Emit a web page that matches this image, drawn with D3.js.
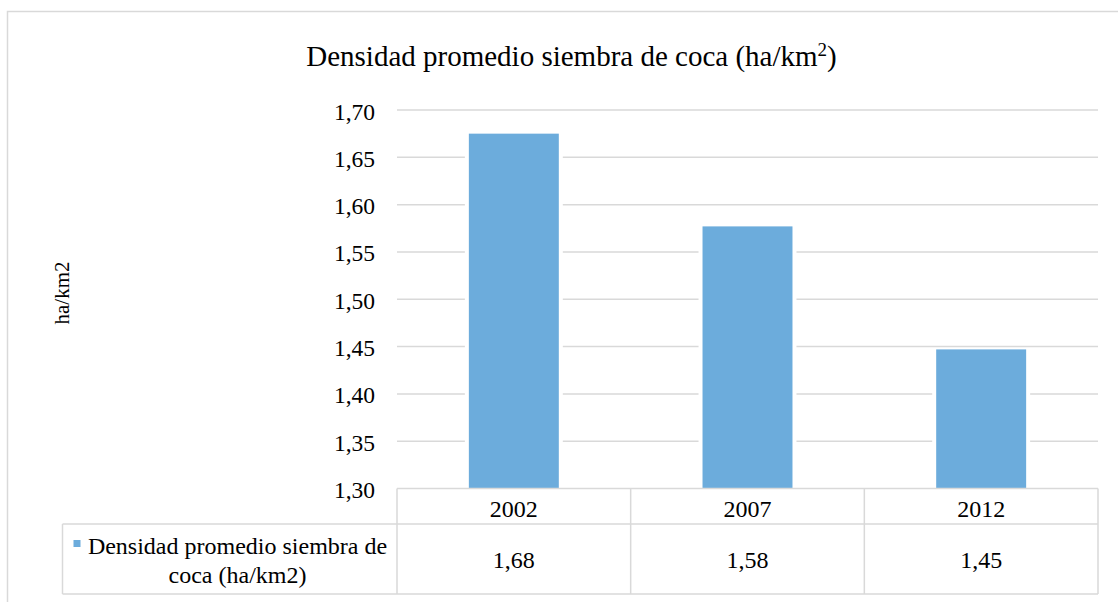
<!DOCTYPE html>
<html>
<head>
<meta charset="utf-8">
<script src="https://cdn.jsdelivr.net/npm/d3@7"></script>
<style>
  html, body { margin: 0; padding: 0; background: #fff; }
  svg { display: block; }
  text { font-family: "Liberation Serif", "Times New Roman", serif; fill: #000; }
</style>
</head>
<body>
<svg id="chart" width="1118" height="602"></svg>
<script>
const categories = ["2002", "2007", "2012"];
const values = [1.675, 1.577, 1.447];
const valueLabels = ["1,68", "1,58", "1,45"];
const yTicks = [1.30, 1.35, 1.40, 1.45, 1.50, 1.55, 1.60, 1.65, 1.70];
const seriesName = ["Densidad promedio siembra de", "coca (ha/km2)"];
const titleText = "Densidad promedio siembra de coca (ha/km";
const yTitle = "ha/km2";

(function () {
const barColor = "#6cacdc";
const gridColor = "#d9d9d9";

const svg = d3.select("#chart");

// outer chart border
svg.append("rect")
  .attr("x", 7.5).attr("y", 11.5)
  .attr("width", 1130).attr("height", 610)
  .attr("fill", "#fff").attr("stroke", gridColor).attr("stroke-width", 1.5);

const pLeft = 397, pRight = 1098, pTop = 110, pBottom = 488.5;
const y = d3.scaleLinear().domain([1.30, 1.70]).range([pBottom, pTop]);
const x = d3.scaleBand().domain(categories).range([pLeft, pRight]).padding(0);
const barW = x.bandwidth() * 0.385;

// title
const t = svg.append("text")
  .attr("x", 571.5).attr("y", 66)
  .attr("text-anchor", "middle")
  .style("font-size", "29px");
t.append("tspan").text(titleText);
t.append("tspan").attr("dy", -10).style("font-size", "19px").text("2");
t.append("tspan").attr("dy", 10).text(")");

// gridlines
svg.append("g").selectAll("line")
  .data(yTicks.filter(d => d > 1.30))
  .join("line")
  .attr("x1", pLeft).attr("x2", pRight)
  .attr("y1", d => y(d)).attr("y2", d => y(d))
  .attr("stroke", gridColor).attr("stroke-width", 1.5);

// y tick labels
const fmt = d => d3.format(".2f")(d).replace(".", ",");
svg.append("g").selectAll("text")
  .data(yTicks)
  .join("text")
  .attr("x", 375)
  .attr("y", d => y(d) + 9.5)
  .attr("text-anchor", "end")
  .style("font-size", "23.5px")
  .text(fmt);

// y title
svg.append("text")
  .attr("transform", "translate(69,293) rotate(-90)")
  .attr("text-anchor", "middle")
  .style("font-size", "21px")
  .text(yTitle);

// bar white halos (gaps in gridlines)
svg.append("g").selectAll("rect")
  .data(categories)
  .join("rect")
  .attr("x", (d) => x(d) + (x.bandwidth() - barW) / 2 - 4)
  .attr("width", barW + 8)
  .attr("y", (d, i) => y(values[i]))
  .attr("height", (d, i) => pBottom - y(values[i]))
  .attr("fill", "#fff");

// bars
svg.append("g").selectAll("rect")
  .data(categories)
  .join("rect")
  .attr("x", (d) => x(d) + (x.bandwidth() - barW) / 2)
  .attr("width", barW)
  .attr("y", (d, i) => y(values[i]))
  .attr("height", (d, i) => pBottom - y(values[i]))
  .attr("fill", barColor);

// data table
const rowMid = 524, rowBot = 594, legLeft = 62.5;
const g = svg.append("g").attr("stroke", gridColor).attr("stroke-width", 1.5);
g.append("line").attr("x1", pLeft).attr("x2", pRight).attr("y1", pBottom).attr("y2", pBottom);
g.append("line").attr("x1", legLeft).attr("x2", pRight).attr("y1", rowMid).attr("y2", rowMid);
g.append("line").attr("x1", legLeft).attr("x2", pRight).attr("y1", rowBot).attr("y2", rowBot);
g.append("line").attr("x1", legLeft).attr("x2", legLeft).attr("y1", rowMid).attr("y2", rowBot);
const edges = categories.map(d => x(d)).concat([pRight]);
g.selectAll("line.v").data(edges).join("line").attr("class", "v")
  .attr("x1", d => d).attr("x2", d => d).attr("y1", pBottom).attr("y2", rowBot);

// category labels
svg.append("g").selectAll("text")
  .data(categories)
  .join("text")
  .attr("x", d => x(d) + x.bandwidth() / 2)
  .attr("y", 517)
  .attr("text-anchor", "middle")
  .style("font-size", "24px")
  .text(d => d);

// values row
svg.append("g").selectAll("text")
  .data(categories)
  .join("text")
  .attr("x", d => x(d) + x.bandwidth() / 2)
  .attr("y", 568)
  .attr("text-anchor", "middle")
  .style("font-size", "24px")
  .text((d, i) => valueLabels[i]);

// legend key
svg.append("rect")
  .attr("x", 73.5).attr("y", 540).attr("width", 7).attr("height", 7)
  .attr("fill", barColor);
svg.append("g").selectAll("text")
  .data(seriesName)
  .join("text")
  .attr("x", 237.5)
  .attr("y", (d, i) => 554 + i * 29)
  .attr("text-anchor", "middle")
  .style("font-size", "24px")
  .text(d => d);
})();
</script>
</body>
</html>
